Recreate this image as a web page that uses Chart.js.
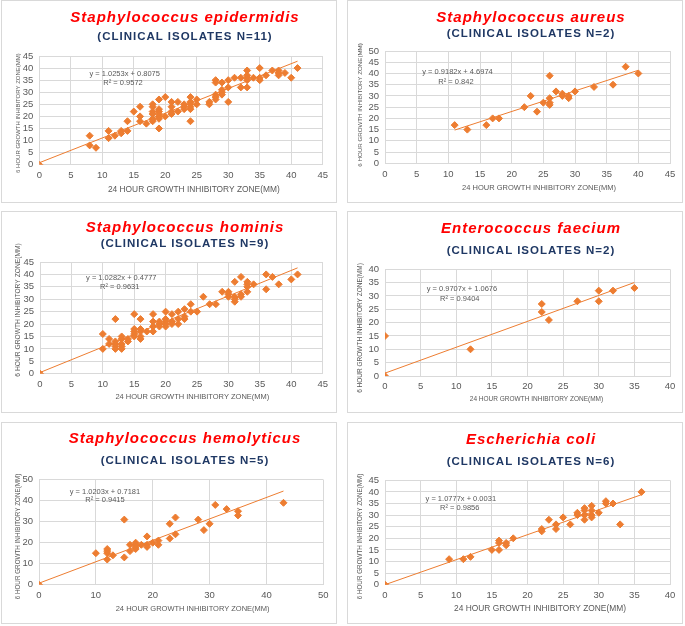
<!DOCTYPE html>
<html>
<head>
<meta charset="utf-8">
<script src="https://cdn.jsdelivr.net/npm/chart.js"></script>
<style>
  body { margin: 0; background: #fff; width: 685px; height: 626px; position: relative; overflow: hidden; }
  .panel { position: absolute; width: 336px; border: 1px solid #d9d9d9; box-sizing: border-box; background: #fff; }
  .panel canvas { position: absolute; left: 0; top: 0; }
  .ttl, .sub { position: absolute; left: 0; width: 334px; padding-left: 32px; box-sizing: border-box;
               text-align: center; white-space: nowrap; font-family: "Liberation Sans", Arial, sans-serif; z-index: 2; }
  .ttl { color: #ff0000; font-size: 15px; font-weight: bold; font-style: italic; letter-spacing: 1px; line-height: 18px; }
  .sub { color: #1f3864; font-size: 11.5px; font-weight: bold; letter-spacing: 1px; line-height: 14px; }
</style>
</head>
<body>
<script>
// titles
const names = ['Staphylococcus epidermidis', 'Staphylococcus aureus', 'Staphylococcus hominis',
               'Enterococcus faecium', 'Staphylococcus hemolyticus', 'Escherichia coli'];
const isolates = [11, 2, 9, 2, 5, 6];
const xTitle = '24 HOUR GROWTH INHIBITORY ZONE(MM)';
const yTitle = '6 HOUR GROWTH INHIBITORY ZONE(MM)';

// trendline equations as printed on the charts
const slopes = [1.0253, 0.9182, 1.0282, 0.9707, 1.0203, 1.0777];
const intercepts = [0.8075, 4.6974, 0.4777, 1.0676, 0.7181, 0.0031];
const rSquared = [0.9572, 0.842, 0.9631, 0.9404, 0.9415, 0.9856];

// axis ranges
const xMax = [45, 45, 45, 40, 50, 40];
const yMax = [45, 50, 45, 40, 50, 45];
const tickStep = [5, 5, 5, 5, 10, 5];

// 24h zone (x) vs 6h zone (y), mm
const epidermidisX = [0, 8, 8, 9, 11, 11, 12, 13, 13, 14, 14, 15, 16, 16, 16, 17, 18, 18, 18, 18, 18, 18,
  19, 19, 19, 19, 19, 19, 19, 20, 20, 21, 21, 21, 21, 22, 22, 23, 23, 23, 24, 24, 24, 24, 24, 24, 25, 25,
  27, 27, 28, 28, 28, 28, 28, 29, 29, 29, 29, 30, 30, 30, 31, 32, 32, 33, 33, 33, 33, 33, 34, 35, 35, 35,
  36, 37, 38, 38, 38, 39, 40, 41];
const epidermidisY = [0, 12, 8, 7, 14, 11, 12, 14, 13, 14, 18, 22, 24, 20, 18, 17, 25, 24, 22, 21, 19, 18,
  27, 23, 22, 21, 20, 19, 15, 28, 20, 26, 24, 22, 21, 26, 22, 25, 24, 23, 28, 26, 25, 24, 23, 18, 27, 25,
  26, 25, 35, 34, 29, 28, 27, 34, 31, 30, 29, 35, 32, 26, 36, 36, 32, 39, 37, 36, 35, 32, 36, 40, 36, 35,
  37, 39, 39, 38, 37, 38, 36, 40];

const aureusX = [11, 13, 16, 17, 18, 22, 23, 24, 25, 26, 26, 26, 26, 27, 28, 28, 29, 29, 30, 33, 36, 38, 40];
const aureusY = [17, 15, 17, 20, 20, 25, 30, 23, 27, 39, 29, 27, 26, 32, 31, 30, 30, 29, 32, 34, 35, 43, 40];

const hominisX = [0, 10, 10, 11, 11, 12, 12, 12, 12, 12, 13, 13, 13, 13, 13, 14, 14, 15, 15, 15, 15, 15,
  16, 16, 16, 16, 16, 17, 18, 18, 18, 18, 19, 19, 19, 20, 20, 20, 20, 20, 21, 21, 21, 22, 22, 22, 23, 23, 23,
  24, 24, 25, 26, 27, 28, 29, 30, 30, 30, 31, 31, 31, 31, 32, 32, 32, 33, 33, 33, 33, 34, 36, 36, 37, 38, 40, 41];
const hominisY = [0, 16, 10, 14, 12, 22, 13, 12, 11, 10, 15, 14, 12, 11, 10, 14, 13, 24, 18, 17, 16, 15,
  22, 18, 17, 15, 14, 17, 24, 21, 19, 17, 21, 20, 19, 25, 22, 21, 20, 19, 24, 21, 20, 25, 22, 20, 26, 23, 22,
  28, 25, 25, 31, 28, 28, 33, 33, 32, 31, 37, 31, 30, 29, 39, 32, 31, 37, 36, 35, 33, 36, 40, 34, 39, 36, 38, 40];

const faeciumX = [0, 0, 12, 22, 22, 23, 27, 30, 30, 32, 35];
const faeciumY = [15, 0, 10, 27, 24, 21, 28, 32, 28, 32, 33];

const hemolyticusX = [0, 10, 12, 12, 12, 12, 13, 15, 15, 16, 16, 17, 17, 17, 17, 18, 19, 19, 19, 20, 21, 21,
  23, 23, 24, 24, 28, 29, 30, 31, 33, 35, 35, 43];
const hemolyticusY = [0, 15, 17, 16, 15, 12, 14, 31, 13, 19, 16, 20, 19, 18, 17, 19, 23, 19, 18, 20, 21, 19,
  29, 22, 32, 24, 31, 26, 29, 38, 36, 35, 33, 39];

const coliX = [0, 9, 11, 12, 15, 16, 16, 16, 17, 17, 18, 22, 22, 23, 24, 24, 25, 26, 27, 27, 28, 28, 28, 28,
  29, 29, 29, 29, 30, 31, 31, 32, 33, 36];
const coliY = [0, 11, 11, 12, 15, 19, 18, 15, 18, 17, 20, 24, 23, 28, 26, 24, 29, 26, 31, 30, 33, 32, 30, 28,
  34, 32, 30, 29, 31, 36, 35, 35, 26, 40];

const seriesX = [epidermidisX, aureusX, hominisX, faeciumX, hemolyticusX, coliX];
const seriesY = [epidermidisY, aureusY, hominisY, faeciumY, hemolyticusY, coliY];

const orange = '#ed7d31';
const grey = '#595959';
const family = '"Liberation Sans", Arial, sans-serif';

// panel boxes and label placement
const panels = [
  { left: 1,   top: 0,   h: 203, area: [37.3, 55, 320.7, 163.7], ttlY: 16.3, subY: 34.7, eq: [13.56, 37.5], r2: [13.3, 33.7], xt: [8.4, 12.8, 24.6], yt: [6, 21, 2.7] },
  { left: 347, top: 0,   h: 203, area: [37, 50, 322, 162.3],     ttlY: 15.7, subY: 32.3, eq: [11.45, 40.5], r2: [11.2, 36.3], xt: [7.5, 11.5, 24.4], yt: [6.2, 24.3, -2.2] },
  { left: 1,   top: 211, h: 202, area: [38, 50, 320.7, 161.7],   ttlY: 15.3, subY: 31.3, eq: [12.94, 38.7], r2: [12.69, 35.05], xt: [7.5, 11, 23.6], yt: [6.7, 21.7, -7.9] },
  { left: 347, top: 211, h: 202, area: [37, 57.3, 322, 164],     ttlY: 16.3, subY: 38, eq: [10.8, 32.5], r2: [10.5, 29], xt: [6.5, 9, 23.3], yt: [6.5, 24.3, 5.3] },
  { left: 1,   top: 422, h: 202, area: [37, 56.7, 321.3, 161.7], ttlY: 15.3, subY: 37, eq: [11.6, 44.3], r2: [11.6, 40.3], xt: [7.5, 11.5, 24.3], yt: [6.3, 20.7, 4.3] },
  { left: 347, top: 422, h: 202, area: [37, 57.3, 322, 161.7],   ttlY: 16.3, subY: 38, eq: [10.64, 36.9], r2: [10.49, 33.2], xt: [8.4, 12.5, 24.3], yt: [6.3, 24.3, 4] }
];

// equation, R² and axis titles
const panelText = {
  id: 'panelText',
  afterDraw(chart, args, o) {
    const { ctx, chartArea: a, scales: { x, y } } = chart;
    ctx.save();
    ctx.fillStyle = grey;
    ctx.textAlign = 'center';
    ctx.textBaseline = 'middle';
    ctx.font = '7.5px ' + family;
    ctx.fillText(o.eqText, x.getPixelForValue(o.eq[0]), y.getPixelForValue(o.eq[1]));
    ctx.fillText(o.r2Text, x.getPixelForValue(o.r2[0]), y.getPixelForValue(o.r2[1]));
    ctx.font = o.xt[0] + 'px ' + family;
    ctx.fillText(xTitle, (a.left + a.right) / 2 + o.xt[1], a.bottom + o.xt[2]);
    ctx.translate(a.left - o.yt[1], (a.top + a.bottom) / 2 + o.yt[2]);
    ctx.rotate(-Math.PI / 2);
    ctx.font = o.yt[0] + 'px ' + family;
    ctx.fillText(yTitle, 0, 0);
    ctx.restore();
  }
};

// every tick from 0 to max, no skipping
function fixedTicks(max, step) {
  return s => {
    const t = [];
    for (let v = 0; v <= max; v += step) t.push({ value: v });
    s.ticks = t;
  };
}

panels.forEach((p, i) => {
  const W = 334, H = p.h - 2;
  const box = document.createElement('div');
  box.className = 'panel';
  box.style.left = p.left + 'px';
  box.style.top = p.top + 'px';
  box.style.height = p.h + 'px';

  const ttl = document.createElement('div');
  ttl.className = 'ttl';
  ttl.textContent = names[i];
  ttl.style.top = (p.ttlY - 9) + 'px';
  const sub = document.createElement('div');
  sub.className = 'sub';
  sub.textContent = '(CLINICAL ISOLATES N=' + isolates[i] + ')';
  sub.style.top = (p.subY - 7) + 'px';

  const canvas = document.createElement('canvas');
  canvas.width = W;
  canvas.height = H;
  canvas.style.width = W + 'px';
  canvas.style.height = H + 'px';
  box.appendChild(canvas);
  box.appendChild(ttl);
  box.appendChild(sub);
  document.body.appendChild(box);

  const xs = seriesX[i], ys = seriesY[i];
  const points = xs.map((v, k) => ({ x: v, y: ys[k] }));
  const x0 = Math.min(...xs), x1 = Math.max(...xs);
  const trend = [
    { x: x0, y: slopes[i] * x0 + intercepts[i] },
    { x: x1, y: slopes[i] * x1 + intercepts[i] }
  ];
  const [l, t, r, b] = p.area;
  const tickFont = { size: 9.5, family: family };

  new Chart(canvas, {
    type: 'scatter',
    data: {
      datasets: [
        { data: trend, showLine: true, borderColor: orange, borderWidth: 1, pointRadius: 0, order: 0 },
        { data: points, pointStyle: 'rectRot', pointRadius: 3.5, backgroundColor: orange,
          borderColor: orange, borderWidth: 1, order: 1 }
      ]
    },
    options: {
      responsive: false,
      animation: false,
      devicePixelRatio: 1,
      layout: { padding: { left: 0, top: t, right: W - r, bottom: 0 } },
      plugins: {
        legend: { display: false },
        tooltip: { enabled: false },
        panelText: {
          eqText: 'y = ' + slopes[i] + 'x + ' + intercepts[i],
          r2Text: 'R² = ' + rSquared[i],
          eq: p.eq, r2: p.r2, xt: p.xt, yt: p.yt
        }
      },
      scales: {
        x: {
          type: 'linear', min: 0, max: xMax[i],
          ticks: { autoSkip: false, padding: 5, color: grey, font: tickFont },
          afterBuildTicks: fixedTicks(xMax[i], tickStep[i]),
          grid: { color: '#d9d9d9', drawTicks: false },
          border: { color: '#d9d9d9' },
          afterFit: s => { s.height = H - b; }
        },
        y: {
          type: 'linear', min: 0, max: yMax[i],
          ticks: { autoSkip: false, padding: 6, color: grey, font: tickFont },
          afterBuildTicks: fixedTicks(yMax[i], tickStep[i]),
          grid: { color: '#d9d9d9', drawTicks: false },
          border: { color: '#d9d9d9' },
          afterFit: s => { s.width = l; }
        }
      }
    },
    plugins: [panelText]
  });
});
</script>
</body>
</html>
